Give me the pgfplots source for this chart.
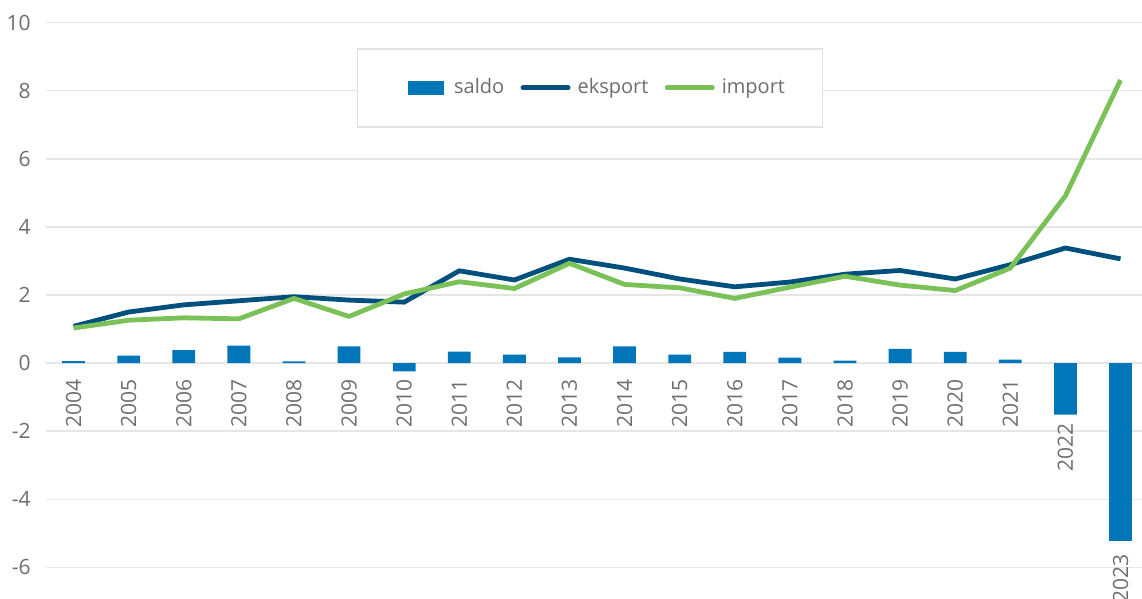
\documentclass[border=0pt]{standalone}
\usepackage{pgfplots}
\pgfplotsset{compat=1.18}
\usepackage{fontspec}
\setmainfont{Open Sans}
\definecolor{saldocol}{RGB}{0,118,186}
\definecolor{ekscol}{RGB}{0,80,125}
\definecolor{impcol}{RGB}{122,193,87}
\definecolor{gridcol}{RGB}{230,230,230}
\definecolor{tickgray}{RGB}{110,110,110}
\definecolor{legborder}{RGB}{226,226,226}
\begin{document}
\begin{tikzpicture}
\begin{axis}[
  name=ax,
  scale only axis,
  width=548pt, height=272.5pt,
  xmin=2003.5, xmax=2023.39,
  ymin=-6, ymax=10,
  axis line style={draw=none},
  major tick length=0pt,
  ytick={-6,-4,-2,0,2,4,6,8,10},
  yticklabels={-6,-4,-2,0,2,4,6,8,10},
  xtick={2004,2005,2006,2007,2008,2009,2010,2011,2012,2013,2014,2015,2016,2017,2018,2019,2020,2021,2022,2023},
  xticklabels={2004,2005,2006,2007,2008,2009,2010,2011,2012,2013,2014,2015,2016,2017,2018,2019,2020,2021,{2022\rule{21.9pt}{0pt}},{2023\rule{87.5pt}{0pt}}},
  ymajorgrids,
  major grid style={draw=gridcol, line width=0.8pt},
  ticklabel style={font=\fontsize{10.5}{12}\selectfont, text=tickgray},
  yticklabel style={anchor=east, inner sep=0pt, xshift=-7.5pt},
  xticklabel style={rotate=90, anchor=east, inner sep=0pt},
  xticklabel shift=-94.2pt,
  legend columns=3,
  legend cell align=left,
  legend style={at={(rel axis cs:0.4964,0.880)}, anchor=center,
    draw=legborder, line width=0.8pt, fill=white,
    font=\fontsize{10}{12}\selectfont, text=tickgray,
    inner xsep=16.75pt, inner ysep=13pt,
    /tikz/every even column/.append style={column sep=5pt}},
]
\addplot[ybar, bar width=11.4pt, fill=saldocol, draw=none,
  legend image code/.code={\path (0pt,0pt) (29.5pt,0pt); \fill[saldocol] (8.5pt,-3.35pt) rectangle (26.5pt,3.35pt);}]
  coordinates {
  (2004,0.06) (2005,0.22) (2006,0.38) (2007,0.51) (2008,0.05)
  (2009,0.49) (2010,-0.24) (2011,0.34) (2012,0.25) (2013,0.17)
  (2014,0.49) (2015,0.25) (2016,0.33) (2017,0.16) (2018,0.07)
  (2019,0.42) (2020,0.33) (2021,0.10) (2022,-1.51) (2023,-5.22)};
\addlegendentry{saldo}
\addplot[ekscol, line width=2.4pt, line join=round, mark=none,
  legend image code/.code={\path (0pt,0pt) (25.3pt,0pt); \draw[ekscol, line width=2.5pt, line cap=round] (1.25pt,0pt) -- (23.75pt,0pt);}]
  coordinates {
  (2004,1.08) (2005,1.50) (2006,1.71) (2007,1.83) (2008,1.95)
  (2009,1.85) (2010,1.79) (2011,2.71) (2012,2.44) (2013,3.05)
  (2014,2.79) (2015,2.47) (2016,2.24) (2017,2.38) (2018,2.61)
  (2019,2.72) (2020,2.47) (2021,2.89) (2022,3.38) (2023,3.06)};
\addlegendentry{eksport}
\addplot[impcol, line width=2.4pt, line join=round, mark=none,
  legend image code/.code={\path (0pt,0pt) (25.3pt,0pt); \draw[impcol, line width=2.5pt, line cap=round] (1.25pt,0pt) -- (23.75pt,0pt);}]
  coordinates {
  (2004,1.03) (2005,1.26) (2006,1.33) (2007,1.30) (2008,1.90)
  (2009,1.37) (2010,2.03) (2011,2.39) (2012,2.19) (2013,2.93)
  (2014,2.31) (2015,2.21) (2016,1.90) (2017,2.23) (2018,2.55)
  (2019,2.29) (2020,2.13) (2021,2.79) (2022,4.91) (2023,8.31)};
\addlegendentry{import}
\end{axis}
\pgfresetboundingbox
\path ([shift={(-23pt,-15.7pt)}]ax.south west) rectangle ([shift={(0pt,11.25pt)}]ax.north east);
\end{tikzpicture}
\end{document}
